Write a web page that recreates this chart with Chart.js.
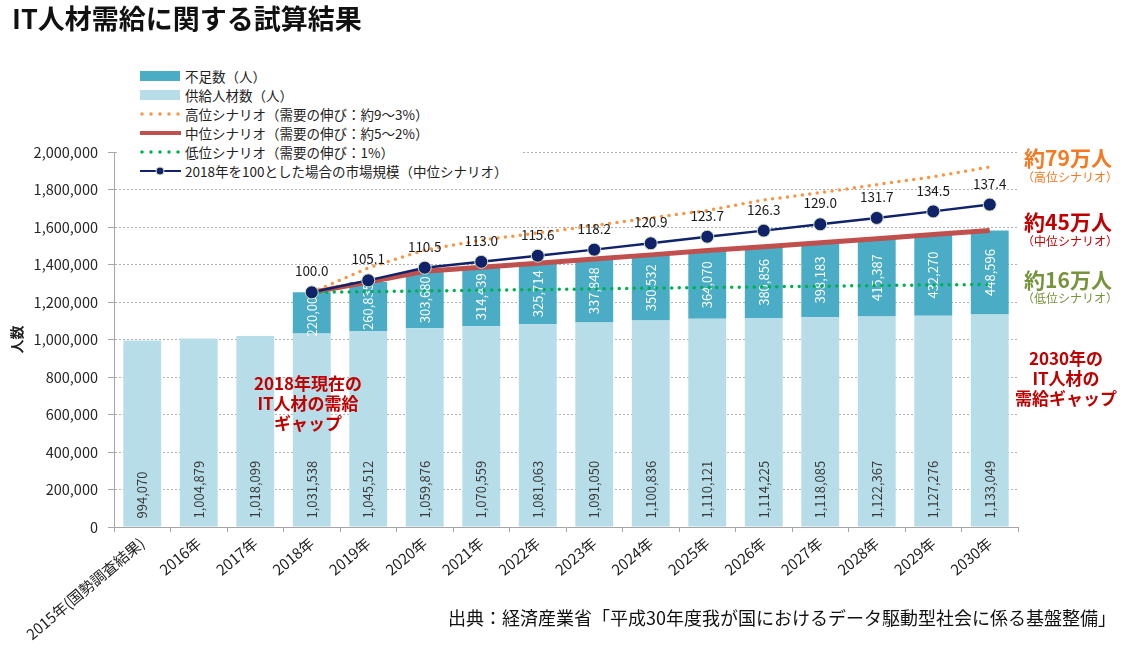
<!DOCTYPE html>
<html lang="ja">
<head>
<meta charset="utf-8">
<script src="https://cdn.jsdelivr.net/npm/chart.js@4.4.1/dist/chart.umd.min.js"></script>
<style>
body{margin:0;background:#fff;font-family:'Noto Sans CJK JP',sans-serif;color:#222;}
#wrap{position:relative;width:1128px;height:648px;overflow:hidden;}
canvas{position:absolute;left:0;top:0;}
.t{position:absolute;white-space:nowrap;line-height:1;}
#legend{position:absolute;left:118px;top:62px;width:405px;height:120px;background:#fff;font-size:13.5px;}
#legend .row{position:absolute;left:20px;height:19px;display:flex;align-items:center;}
#legend svg{margin-right:3px;}
.big{font-size:21px;font-weight:bold;transform:translateX(-50%);}
.sub{font-size:12px;transform:translateX(-50%);}
.gap{position:absolute;font-size:17px;font-weight:bold;color:#c00000;text-align:center;line-height:20px;transform:translateX(-50%);white-space:nowrap;}
</style>
</head>
<body>
<div id="wrap">
  <canvas id="chart" width="1128" height="648"></canvas>
  <div class="t" style="left:12px;top:4px;font-size:27px;font-weight:bold;color:#111">IT人材需給に関する試算結果</div>

  <div id="legend">
    <div class="row" style="top:4px"><svg width="44" height="12"><rect x="2" y="1" width="40" height="10" fill="#4bacc6"/></svg>不足数（人）</div>
    <div class="row" style="top:23px"><svg width="44" height="12"><rect x="2" y="1" width="40" height="10" fill="#b7dde8"/></svg>供給人材数（人）</div>
    <div class="row" style="top:42px"><svg width="44" height="12"><line x1="4" y1="6" x2="42" y2="6" stroke="#f79646" stroke-width="3.5" stroke-linecap="round" stroke-dasharray="0 9"/></svg>高位シナリオ（需要の伸び：約9～3%）</div>
    <div class="row" style="top:61px"><svg width="44" height="12"><line x1="2" y1="6" x2="43" y2="6" stroke="#c0504d" stroke-width="4"/></svg>中位シナリオ（需要の伸び：約5～2%）</div>
    <div class="row" style="top:80px"><svg width="44" height="12"><line x1="4" y1="6" x2="42" y2="6" stroke="#00b050" stroke-width="3.5" stroke-linecap="round" stroke-dasharray="0 9"/></svg>低位シナリオ（需要の伸び：1%）</div>
    <div class="row" style="top:99px"><svg width="44" height="12"><line x1="2" y1="6" x2="43" y2="6" stroke="#10236a" stroke-width="2"/><circle cx="22" cy="6" r="4" fill="#10236a" stroke="#d6e3bc" stroke-width="1"/></svg>2018年を100とした場合の市場規模（中位シナリオ）</div>
  </div>

  <div class="t big" style="left:1068px;top:147px;color:#f47920">約79万人</div>
  <div class="t sub" style="left:1070px;top:171px;color:#f47920">（高位シナリオ）</div>
  <div class="t big" style="left:1068px;top:211px;color:#c00000">約45万人</div>
  <div class="t sub" style="left:1070px;top:235px;color:#c00000">（中位シナリオ）</div>
  <div class="t big" style="left:1068px;top:269px;color:#77933c">約16万人</div>
  <div class="t sub" style="left:1070px;top:292px;color:#77933c">（低位シナリオ）</div>

  <div class="gap" style="left:1066px;top:348px">2030年の<br>IT人材の<br>需給ギャップ</div>
  <div class="gap" style="left:308px;top:373px">2018年現在の<br>IT人材の需給<br>ギャップ</div>

  <div class="t" style="right:12px;top:608px;font-size:18px;color:#111">出典：経済産業省「平成30年度我が国におけるデータ駆動型社会に係る基盤整備」</div>
</div>

<script>
const years = ['2015年(国勢調査結果)', '2016年', '2017年', '2018年', '2019年', '2020年', '2021年', '2022年',
  '2023年', '2024年', '2025年', '2026年', '2027年', '2028年', '2029年', '2030年']
const supply = [994070, 1004879, 1018099, 1031538, 1045512, 1059876, 1070559, 1081063,
  1091050, 1100836, 1110121, 1114225, 1118085, 1122367, 1127276, 1133049]
const shortage = [null, null, null, 220000, 260835, 303680, 314439, 325714,
  337848, 350532, 364070, 380856, 398183, 415387, 432270, 448596]
const highScenario = [null, null, null, 1251538, 1382000, 1477000, 1530000, 1568000,
  1607000, 1648000, 1688000, 1744000, 1783000, 1826000, 1868000, 1920000]
const midScenario = [null, null, null, 1251538, 1306347, 1363556, 1384998, 1406777,
  1428898, 1451368, 1474191, 1495081, 1516268, 1537754, 1559546, 1581645]
const lowScenario = [null, null, null, 1251538, 1255000, 1259000, 1263000, 1266000,
  1270000, 1274000, 1277000, 1281000, 1284000, 1288000, 1291000, 1294000]
const marketIndex = [null, null, null, 100.0, 105.1, 110.5, 113.0, 115.6,
  118.2, 120.9, 123.7, 126.3, 129.0, 131.7, 134.5, 137.4]

const yMax = 2000000
// 市場規模の指数は2018年の需要(100)を左軸の人数に合わせる
const y2Max = 100 * yMax / (supply[3] + shortage[3])

Chart.defaults.font.family = "'Noto Sans CJK JP', sans-serif"
Chart.defaults.color = '#262626'

const labelPlugin = {
  id: 'labelPlugin',
  afterDatasetDraw(chart, args) {
    if (args.index !== 0) return
    const c = chart.ctx
    c.save()
    c.font = '13px "Noto Sans CJK JP"'
    c.textBaseline = 'middle'
    chart.getDatasetMeta(0).data.forEach((bar, i) => {
      c.save()
      c.translate(bar.x, bar.base - 8)
      c.rotate(-Math.PI / 2)
      c.fillStyle = '#3a3a3a'
      c.textAlign = 'left'
      c.fillText(supply[i].toLocaleString('en-US'), 0, 0)
      c.restore()
    })
    chart.getDatasetMeta(1).data.forEach((bar, i) => {
      if (shortage[i] == null) return
      c.save()
      c.translate(bar.x, (bar.y + bar.base) / 2)
      c.rotate(-Math.PI / 2)
      c.fillStyle = '#ffffff'
      c.textAlign = 'center'
      c.fillText(shortage[i].toLocaleString('en-US'), 0, 0)
      c.restore()
    })
    c.restore()
  },
  afterDatasetsDraw(chart) {
    const c = chart.ctx
    c.save()
    c.font = '13.5px "Noto Sans CJK JP"'
    c.fillStyle = '#1a1a1a'
    c.textAlign = 'center'
    c.textBaseline = 'middle'
    chart.getDatasetMeta(5).data.forEach((pt, i) => {
      if (marketIndex[i] == null) return
      c.fillText(marketIndex[i].toFixed(1), pt.x, pt.y - 21)
    })
    c.restore()
  }
}

new Chart(document.getElementById('chart'), {
  type: 'bar',
  data: {
    labels: years,
    datasets: [
      { label: '供給人材数（人）', data: supply, backgroundColor: '#b7dde8', stack: 'bars', order: 5 },
      { label: '不足数（人）', data: shortage, backgroundColor: '#4bacc6', stack: 'bars', order: 6 },
      { type: 'line', label: '中位シナリオ', data: midScenario, stack: 'mid', borderColor: '#c0504d',
        borderWidth: 5, pointRadius: 0, order: 4 },
      { type: 'line', label: '高位シナリオ', data: highScenario, stack: 'high', borderColor: '#f79646',
        borderWidth: 3.5, borderDash: [0, 7.5], borderCapStyle: 'round', pointRadius: 0, order: 3 },
      { type: 'line', label: '低位シナリオ', data: lowScenario, stack: 'low', borderColor: '#00b050',
        borderWidth: 3.5, borderDash: [0, 7.5], borderCapStyle: 'round', pointRadius: 0, order: 2 },
      { type: 'line', label: '市場規模', data: marketIndex, yAxisID: 'y2', borderColor: '#10236a',
        borderWidth: 2.5, pointRadius: 6.5, pointBackgroundColor: '#10236a',
        pointBorderColor: '#d6e3bc', pointBorderWidth: 1, order: 1 }
    ]
  },
  options: {
    responsive: false,
    animation: false,
    devicePixelRatio: 1,
    layout: { padding: { left: 0, top: 152, right: 110, bottom: 0 } },
    datasets: { bar: { barPercentage: 0.67, categoryPercentage: 1 } },
    plugins: { legend: { display: false }, tooltip: { enabled: false } },
    scales: {
      x: {
        stacked: true,
        grid: { drawOnChartArea: false, drawTicks: true, tickLength: 5, color: '#a6a6a6', offset: true },
        border: { color: '#a6a6a6' },
        ticks: { autoSkip: false, minRotation: 40, maxRotation: 40, padding: 2, font: { size: 15 }, color: '#222' },
        afterFit: (scale) => { scale.height = 121 }
      },
      y: {
        stacked: true,
        min: 0,
        max: yMax,
        ticks: { stepSize: 200000, padding: 10, font: { size: 14.5 }, color: '#262626',
          callback: (v) => v.toLocaleString('en-US') },
        grid: { color: '#b0b0b0', tickLength: 6, tickColor: '#a6a6a6' },
        border: { color: '#a6a6a6', dash: [2, 2] },
        title: { display: true, text: '人数', font: { size: 14, weight: 'bold' }, color: '#222',
          padding: { top: 8, bottom: 0 } },
        afterFit: (scale) => { scale.width = 114 }
      },
      y2: { display: false, min: 0, max: y2Max }
    }
  },
  plugins: [labelPlugin]
})
</script>
</body>
</html>
